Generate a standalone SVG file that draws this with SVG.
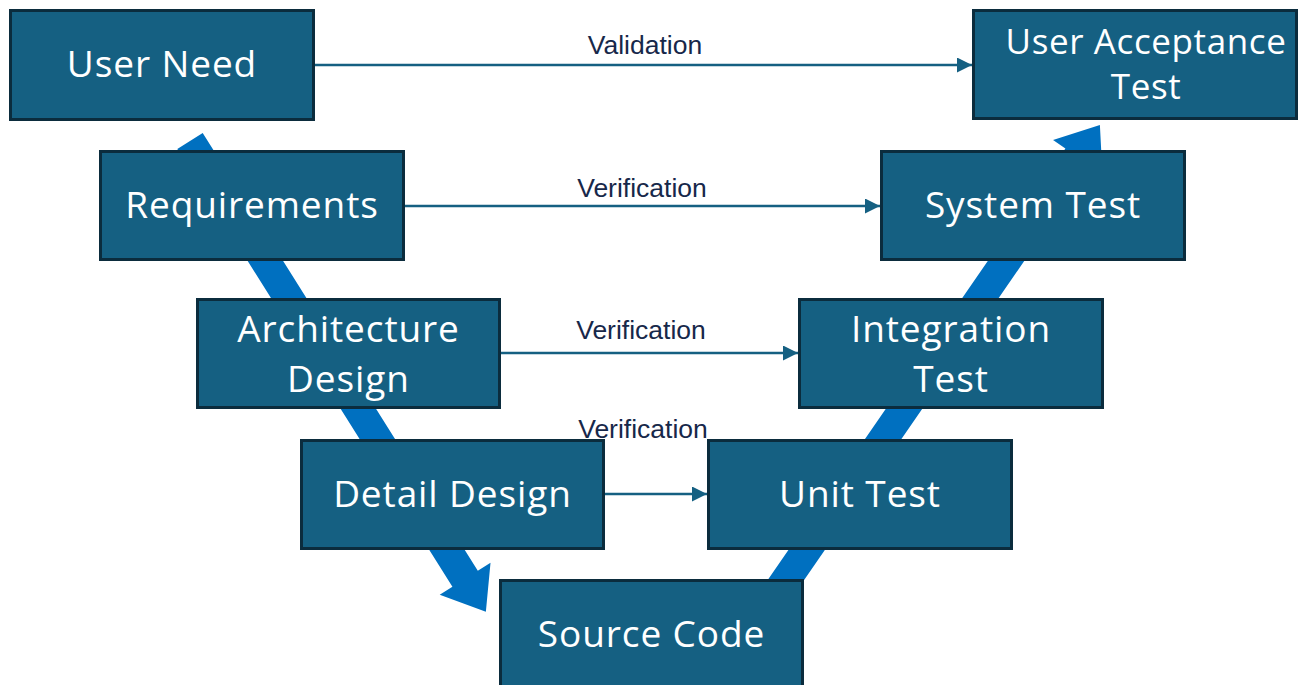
<svg xmlns="http://www.w3.org/2000/svg" width="1306" height="685" viewBox="0 0 1306 685">
  <defs>
    <style>
      .box { fill: #156082; stroke: #0b2c3d; stroke-width: 3; }
      .txt { font-family: "Open Sans", "Liberation Sans", sans-serif; font-size: 37px; letter-spacing: 0.9px; fill: #ffffff; text-anchor: middle; }
      .uat { font-size: 35px; letter-spacing: 0.6px; }
      .flow { fill: #0070c0; }
      .link { stroke: #156082; stroke-width: 2.5; fill: none; marker-end: url(#head); }
      .lbl { font-family: "Liberation Sans", Arial, sans-serif; font-size: 26.5px; fill: #17284a; text-anchor: middle; }
    </style>
    <marker id="head" viewBox="0 0 10 10" refX="10" refY="5" markerWidth="6" markerHeight="6" markerUnits="strokeWidth" orient="auto">
      <path d="M0,0 L10,5 L0,10 Z" fill="#156082"/>
    </marker>
  </defs>
  <rect width="1306" height="685" fill="#ffffff"/>

  <!-- V-model flow: decomposition down the left, integration up the right -->
  <g id="flow-arrows">
    <polygon class="flow" transform="translate(190,141) rotate(57.85)" points="0,-15 517,-15 517,-30 556,0 517,30 517,15 0,15"/>
    <polygon class="flow" transform="translate(748,635) rotate(-55.4)" points="0,-15 580.7,-15 580.7,-30 619.7,0 580.7,30 580.7,15 0,15"/>
  </g>

  <g id="user-need">
    <rect class="box" x="10.5" y="10.5" width="303" height="109"/>
    <text class="txt" x="162" y="77">User Need</text>
  </g>
  <g id="user-acceptance-test">
    <rect class="box" x="973.5" y="10.5" width="323" height="108"/>
    <text class="txt uat" x="1146" y="54">User Acceptance</text>
    <text class="txt uat" x="1146" y="99">Test</text>
  </g>
  <g id="requirements">
    <rect class="box" x="100.5" y="151.5" width="303" height="108"/>
    <text class="txt" x="252" y="218">Requirements</text>
  </g>
  <g id="system-test">
    <rect class="box" x="881.5" y="151.5" width="303" height="108"/>
    <text class="txt" x="1033" y="218">System Test</text>
  </g>
  <g id="architecture-design">
    <rect class="box" x="197.5" y="299.5" width="302" height="108"/>
    <text class="txt" x="348.5" y="342">Architecture</text>
    <text class="txt" x="348.5" y="392">Design</text>
  </g>
  <g id="integration-test">
    <rect class="box" x="799.5" y="299.5" width="303" height="108"/>
    <text class="txt" x="951" y="342">Integration</text>
    <text class="txt" x="951" y="392">Test</text>
  </g>
  <g id="detail-design">
    <rect class="box" x="301.5" y="440.5" width="302" height="108"/>
    <text class="txt" x="452.5" y="507">Detail Design</text>
  </g>
  <g id="unit-test">
    <rect class="box" x="708.5" y="440.5" width="303" height="108"/>
    <text class="txt" x="860" y="507">Unit Test</text>
  </g>
  <g id="source-code">
    <rect class="box" x="500.5" y="580.5" width="302" height="108"/>
    <text class="txt" x="651.5" y="647">Source Code</text>
  </g>

  <g id="connectors">
    <line class="link" x1="315" y1="65" x2="972" y2="65"/>
    <line class="link" x1="405" y1="206" x2="880" y2="206"/>
    <line class="link" x1="501" y1="353" x2="798" y2="353"/>
    <line class="link" x1="605" y1="494" x2="707" y2="494"/>
  </g>

  <g id="connector-labels">
    <text class="lbl" x="645" y="54">Validation</text>
    <text class="lbl" x="642" y="197">Verification</text>
    <text class="lbl" x="641" y="339">Verification</text>
    <text class="lbl" x="643" y="438">Verification</text>
  </g>
</svg>
